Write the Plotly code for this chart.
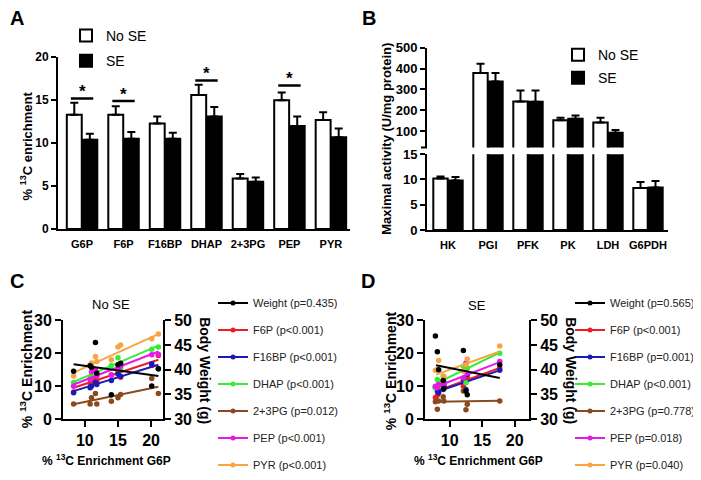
import plotly.graph_objects as go

# the page body adds an 8px margin, so the figure is drawn 8px in from the corner
OFF = 8
W, H = 701 - OFF, 480 - OFF
FONT = "Liberation Sans"

# ---- Panel A: 13C enrichment of glycolytic intermediates
metabolites = ["G6P", "F6P", "F16BP", "DHAP", "2+3PG", "PEP", "PYR"]
a_no_se = [13.3, 13.3, 12.3, 15.6, 5.9, 15.0, 12.7]
a_no_se_err = [1.4, 1.0, 0.8, 1.2, 0.5, 0.9, 0.9]
a_se = [10.4, 10.5, 10.5, 13.1, 5.5, 12.0, 10.7]
a_se_err = [0.7, 0.8, 0.7, 1.1, 0.5, 1.1, 1.0]
sig_metabolites = ["G6P", "F6P", "DHAP", "PEP"]
sig_levels = [15.2, 14.9, 17.3, 16.7]

# ---- Panel B: maximal enzyme activity
enzymes = ["HK", "PGI", "PFK", "PK", "LDH", "G6PDH"]
b_no_se = [10.2, 378, 242, 152, 141, 8.3]
b_no_se_err = [0.4, 45, 53, 12, 23, 1.2]
b_se = [9.8, 338, 240, 159, 92, 8.4]
b_se_err = [0.7, 40, 55, 15, 13, 1.3]

# ---- Panel C: No SE correlations vs G6P enrichment
c_g6p = [8.3, 10.8, 11.0, 11.6, 11.8, 14.0, 15.0, 15.4, 20.1, 21.1]
c_weight = [39.7, 40.8, 40.5, 45.5, 39.3, 34.9, 41.0, 41.3, 36.7, 40.2]
c_f6p = [8.2, 10.8, 11.2, 12.1, 11.5, 13.4, 14.0, 12.7, 16.3, 19.3]
c_f16bp = [8.0, 9.5, 10.0, 11.1, 10.5, 11.7, 13.7, 13.0, 16.8, 15.3]
c_dhap = [11.1, 12.5, 12.9, 14.4, 13.5, 16.3, 18.6, 15.3, 21.2, 21.9]
c_23pg = [4.6, 4.6, 6.5, 7.8, 4.6, 5.4, 6.5, 7.5, 12.3, 7.8]
c_pep = [10.0, 12.0, 14.4, 15.0, 13.0, 13.4, 15.3, 16.0, 19.5, 19.7]
c_pyr = [13.1, 16.5, 17.0, 19.0, 17.5, 18.0, 21.9, 22.5, 24.4, 25.8]
c_fit_x = [8.3, 21.1]
c_fit_weight = [41.1, 38.7]
c_fit_f6p = [9.5, 18.0]
c_fit_f16bp = [8.5, 16.5]
c_fit_dhap = [11.3, 22.3]
c_fit_23pg = [4.5, 9.8]
c_fit_pep = [10.5, 20.5]
c_fit_pyr = [14.1, 25.8]
c_pvals = ["p=0.435", "p<0.001", "p<0.001", "p<0.001", "p=0.012", "p<0.001", "p<0.001"]

# ---- Panel D: SE correlations vs G6P enrichment
d_g6p = [7.8, 8.1, 8.3, 9.0, 9.1, 12.1, 12.5, 12.7, 17.7]
d_weight = [46.8, 43.6, 40.0, 37.8, 36.2, 43.9, 35.7, 34.9, 41.0]
d_f6p = [6.5, 7.2, 8.5, 9.5, 10.5, 10.0, 11.5, 12.5, 15.5]
d_f16bp = [9.6, 8.5, 8.0, 9.0, 10.0, 12.0, 9.0, 13.5, 14.8]
d_dhap = [9.5, 12.0, 10.0, 13.0, 11.5, 16.0, 11.0, 15.5, 20.0]
d_23pg = [5.3, 3.0, 5.5, 6.8, 5.5, 8.5, 2.8, 4.5, 5.5]
d_pep = [10.0, 9.5, 10.5, 10.5, 11.0, 12.5, 17.0, 14.0, 17.5]
d_pyr = [14.8, 15.0, 17.8, 12.0, 13.0, 14.5, 16.5, 18.2, 22.2]
d_fit_x = [7.9, 17.7]
d_fit_weight = [40.9, 38.3]
d_fit_f6p = [8.5, 15.5]
d_fit_f16bp = [8.2, 14.8]
d_fit_dhap = [10.8, 20.2]
d_fit_23pg = [5.3, 5.6]
d_fit_pep = [9.8, 17.3]
d_fit_pyr = [13.5, 20.5]
d_pvals = ["p=0.565", "p<0.001", "p=0.001", "p<0.001", "p=0.778", "p=0.018", "p=0.040"]

series_names = ["Weight", "F6P", "F16BP", "DHAP", "2+3PG", "PEP", "PYR"]
series_colors = ["#000000", "#EE1C25", "#1A1AB8", "#33EE33", "#8B4A1E", "#E619E6", "#F7A541"]


def px_x(x):
    # screen pixel -> paper fraction
    return (x - OFF) / W


def px_y(y):
    return 1 - (y - OFF) / H


fig = go.Figure()

# ---------------- Panel A bars
bar_line = dict(color="black", width=2)
fig.add_trace(go.Bar(
    x=metabolites, y=a_no_se, name="No SE",
    marker=dict(color="white", line=bar_line),
    error_y=dict(type="data", array=a_no_se_err, arrayminus=[0] * 7,
                 symmetric=False, color="black", thickness=2, width=4),
    xaxis="x", yaxis="y", legend="legend", legendgroup="a1"
))
fig.add_trace(go.Bar(
    x=metabolites, y=a_se, name="SE",
    marker=dict(color="black", line=bar_line),
    error_y=dict(type="data", array=a_se_err, arrayminus=[0] * 7,
                 symmetric=False, color="black", thickness=2, width=4),
    xaxis="x", yaxis="y", legend="legend", legendgroup="a2"
))

# ---------------- Panel B bars (broken axis: lower y2, upper y3)
for yax, show in (("y2", False), ("y3", True)):
    fig.add_trace(go.Bar(
        x=enzymes, y=b_no_se, name="No SE",
        marker=dict(color="white", line=bar_line),
        error_y=dict(type="data", array=b_no_se_err, arrayminus=[0] * 6,
                     symmetric=False, color="black", thickness=2, width=4),
        xaxis="x2", yaxis=yax, legend="legend2", legendgroup="b1", showlegend=show
    ))
    fig.add_trace(go.Bar(
        x=enzymes, y=b_se, name="SE",
        marker=dict(color="black", line=bar_line),
        error_y=dict(type="data", array=b_se_err, arrayminus=[0] * 6,
                     symmetric=False, color="black", thickness=2, width=4),
        xaxis="x2", yaxis=yax, legend="legend2", legendgroup="b2", showlegend=show
    ))


# ---------------- Panels C & D scatter + fits
def add_corr_panel(xa, ya_left, ya_right, legend, g6p, values, fit_x, fits, pvals):
    # draw metabolites first, body weight on top
    order = [1, 2, 3, 4, 5, 6, 0]
    for i in order:
        yax = ya_right if i == 0 else ya_left
        fig.add_trace(go.Scatter(
            x=g6p, y=values[i], mode="markers",
            marker=dict(color=series_colors[i], size=5.5),
            xaxis=xa, yaxis=yax, showlegend=False, hoverinfo="skip"
        ))
        fig.add_trace(go.Scatter(
            x=fit_x, y=fits[i], mode="lines",
            line=dict(color=series_colors[i], width=2),
            xaxis=xa, yaxis=yax, showlegend=False, hoverinfo="skip"
        ))
    # legend-only entries
    for i in range(7):
        fig.add_trace(go.Scatter(
            x=[None], y=[None], mode="lines+markers",
            line=dict(color=series_colors[i], width=2),
            marker=dict(color=series_colors[i], size=5),
            name=f"{series_names[i]} ({pvals[i]})",
            xaxis=xa, yaxis=ya_left, legend=legend, legendgroup=f"{legend}_{i}"
        ))


add_corr_panel("x3", "y4", "y5", "legend3", c_g6p,
               [c_weight, c_f6p, c_f16bp, c_dhap, c_23pg, c_pep, c_pyr], c_fit_x,
               [c_fit_weight, c_fit_f6p, c_fit_f16bp, c_fit_dhap, c_fit_23pg, c_fit_pep, c_fit_pyr],
               c_pvals)
add_corr_panel("x4", "y6", "y7", "legend4", d_g6p,
               [d_weight, d_f6p, d_f16bp, d_dhap, d_23pg, d_pep, d_pyr], d_fit_x,
               [d_fit_weight, d_fit_f6p, d_fit_f16bp, d_fit_dhap, d_fit_23pg, d_fit_pep, d_fit_pyr],
               d_pvals)

# ---------------- axes
tick_a = dict(family=FONT, size=12, color="black", weight="bold")
tick_b = dict(family=FONT, size=13, color="black", weight="bold")
tick_c = dict(family=FONT, size=16, color="black", weight="bold")
cat_font = dict(family=FONT, size=11, color="black", weight="bold")
common = dict(showline=True, linecolor="black", linewidth=2, showgrid=False,
              zeroline=False, ticks="outside", tickcolor="black", tickwidth=2)

fig.update_layout(
    xaxis=dict(domain=[px_x(58), px_x(350)], range=[-0.58, 6.46], anchor="y",
               showline=True, linecolor="black", linewidth=2, showgrid=False,
               ticks="", ticklabelstandoff=4, tickfont=cat_font),
    yaxis=dict(domain=[px_y(230), px_y(51)], range=[0, 20], tickvals=[0, 5, 10, 15, 20],
               anchor="x", ticklen=5, tickfont=tick_a, **common),
    xaxis2=dict(domain=[px_x(427), px_x(668)], range=[-0.525, 5.5], anchor="y2",
                showline=True, linecolor="black", linewidth=2, showgrid=False,
                ticks="", ticklabelstandoff=4, tickfont=cat_font),
    yaxis2=dict(domain=[px_y(231), px_y(152)], range=[0, 15], tickvals=[0, 5, 10, 15],
                anchor="x2", ticklen=5, tickfont=tick_b, **common),
    yaxis3=dict(domain=[px_y(145), px_y(41)], range=[21, 500],
                tickvals=[100, 200, 300, 400, 500],
                anchor="x2", ticklen=5, tickfont=tick_b, **common),
    xaxis3=dict(domain=[px_x(63), px_x(163)], range=[6.7, 21.8], tickvals=[10, 15, 20],
                anchor="y4", ticklen=6, tickfont=tick_c, **common),
    yaxis4=dict(domain=[px_y(428), px_y(325)], range=[0, 30], tickvals=[0, 10, 20, 30],
                anchor="x3", ticklen=6, tickfont=tick_c, **common),
    yaxis5=dict(domain=[px_y(428), px_y(325)], range=[30, 50],
                tickvals=[30, 35, 40, 45, 50], anchor="x3", overlaying="y4", side="right",
                ticklen=6, tickfont=tick_c, **common),
    xaxis4=dict(domain=[px_x(425), px_x(529)], range=[6.2, 22.2], tickvals=[10, 15, 20],
                anchor="y6", ticklen=6, tickfont=tick_c, **common),
    yaxis6=dict(domain=[px_y(428), px_y(325)], range=[0, 30], tickvals=[0, 10, 20, 30],
                anchor="x4", ticklen=6, tickfont=tick_c, **common),
    yaxis7=dict(domain=[px_y(428), px_y(325)], range=[30, 50],
                tickvals=[30, 35, 40, 45, 50], anchor="x4", overlaying="y6", side="right",
                ticklen=6, tickfont=tick_c, **common),
)

# ---------------- legends
bar_legend_font = dict(family=FONT, size=14, color="black")
line_legend_font = dict(family=FONT, size=11, color="#222222")
fig.update_layout(
    legend=dict(x=px_x(66), y=px_y(12), xanchor="left", yanchor="top",
                font=bar_legend_font, tracegroupgap=4, bgcolor="rgba(0,0,0,0)"),
    legend2=dict(x=px_x(558), y=px_y(32), xanchor="left", yanchor="top",
                 font=bar_legend_font, tracegroupgap=2, bgcolor="rgba(0,0,0,0)"),
    legend3=dict(x=px_x(213), y=px_y(292), xanchor="left", yanchor="top",
                 font=line_legend_font, tracegroupgap=8, bgcolor="rgba(0,0,0,0)"),
    legend4=dict(x=1, y=px_y(292), xanchor="right", yanchor="top",
                 font=line_legend_font, tracegroupgap=8, bgcolor="rgba(0,0,0,0)"),
    barmode="group", bargap=0.25, bargroupgap=0.04,
)

# significance bars in panel A
shapes = []
annotations = []
for name, level in zip(sig_metabolites, sig_levels):
    i = metabolites.index(name)
    shapes.append(dict(type="line", xref="x", yref="y", x0=i - 0.27, x1=i + 0.27,
                       y0=level, y1=level, line=dict(color="black", width=2.5)))
    annotations.append(dict(x=i, y=level, xref="x", yref="y", text="*", showarrow=False,
                            yshift=7, font=dict(family=FONT, size=17, color="black", weight="bold")))

# break mark on panel B axis
shapes.append(dict(type="line", xref="paper", yref="paper", x0=px_x(421), x1=px_x(427),
                   y0=px_y(145), y1=px_y(145), line=dict(color="black", width=2)))


def label(x, y, text, size, angle=0, bold=True, anchor="center"):
    annotations.append(dict(x=px_x(x), y=px_y(y), xref="paper", yref="paper", text=text,
                            showarrow=False, textangle=angle, xanchor=anchor, yanchor="middle",
                            font=dict(family=FONT, size=size, color="black",
                                      weight="bold" if bold else "normal")))


# panel letters
label(8, 10, "A", 20, anchor="left")
label(369, 10, "B", 20)
label(8, 284, "C", 20, anchor="left")
label(368, 284, "D", 20)

# axis titles
label(26, 144, "% <sup>13</sup>C enrichment", 13, -90)
label(387, 136, "Maximal activity (U/mg protein)", 13, -90)
label(26, 376, "% <sup>13</sup>C Enrichment", 14, -90)
label(205, 377, "Body Weight (g)", 14, 90)
label(106, 471, "% <sup>13</sup>C Enrichment G6P", 12)
label(111, 309, "No SE", 13, bold=False)
label(390, 377, "% <sup>13</sup>C Enrichment", 14, -90)
label(571, 377, "Body Weight (g)", 14, 90)
label(478, 471, "% <sup>13</sup>C Enrichment G6P", 12)
label(477, 310, "SE", 13, bold=False)

fig.update_layout(
    width=W, height=H,
    margin=dict(l=0, r=0, t=0, b=0),
    paper_bgcolor="white", plot_bgcolor="white",
    shapes=shapes, annotations=annotations,
    font=dict(family=FONT, color="black"),
)

fig.write_html("out.html")
